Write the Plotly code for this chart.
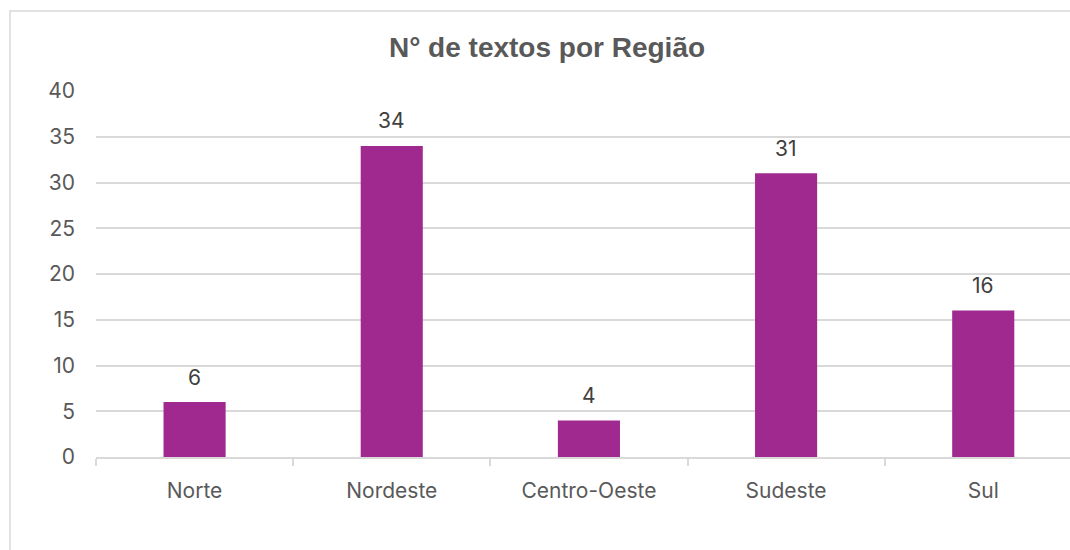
import plotly.graph_objects as go

categories = ["Norte", "Nordeste", "Centro-Oeste", "Sudeste", "Sul"]
values = [6, 34, 4, 31, 16]
y_ticks = [0, 5, 10, 15, 20, 25, 30, 35, 40]

W, H = 1070, 550
left, right_edge, top, bottom = 96, 1070, 91, 457
pw = right_edge - left
ph = bottom - top

def px_x(x):
    return (x - left) / pw

def px_y(y):
    return (bottom - y) / ph

label_font = "Inter, Noto Sans, sans-serif"

fig = go.Figure()
fig.add_trace(go.Bar(
    x=categories, y=values,
    marker=dict(color="#A0298F", line=dict(width=0)),
    width=0.315,
    hoverinfo="x+y",
))

for c, v in zip(categories, values):
    fig.add_annotation(x=c, y=v, text=str(v), showarrow=False,
                       yanchor="middle", yshift=25,
                       font=dict(family=label_font, size=21, color="#404040"))

fig.update_layout(
    width=W, height=H,
    margin=dict(l=left, r=W - right_edge, t=top, b=H - bottom),
    paper_bgcolor="white", plot_bgcolor="white",
    showlegend=False,
    title=dict(text="<b>N° de textos por Região</b>", x=547 / W, xanchor="center",
               y=1 - 47 / H, yanchor="middle", yref="container",
               font=dict(family="Liberation Sans, Arial, sans-serif", size=28, color="#595959")),
    xaxis=dict(
        range=[-0.5, 4.44],
        showline=True, linecolor="#D9D9D9", linewidth=1.5,
        ticks="outside", tickson="boundaries", ticklen=7, tickcolor="#D9D9D9", tickwidth=1.5,
        tickfont=dict(family=label_font, size=21, color="#595959"),
        ticklabelstandoff=14,
        showgrid=False,
    ),
    yaxis=dict(
        range=[0, 40], tickvals=y_ticks,
        showgrid=True, gridcolor="#D9D9D9", gridwidth=1.5,
        showline=False, zeroline=False,
        tickfont=dict(family=label_font, size=21, color="#595959"),
        ticklabelstandoff=20,
    ),
    shapes=[dict(type="rect", xref="paper", yref="paper",
                 x0=px_x(10), x1=px_x(1200), y0=px_y(700), y1=px_y(11),
                 line=dict(color="#D9D9D9", width=1.5), fillcolor="rgba(0,0,0,0)", layer="below")],
)

fig.write_html(
    "out.html",
    config={"displayModeBar": False},
    post_script="document.body.style.margin='0';document.documentElement.style.overflow='hidden';document.body.style.overflow='hidden';",
)
